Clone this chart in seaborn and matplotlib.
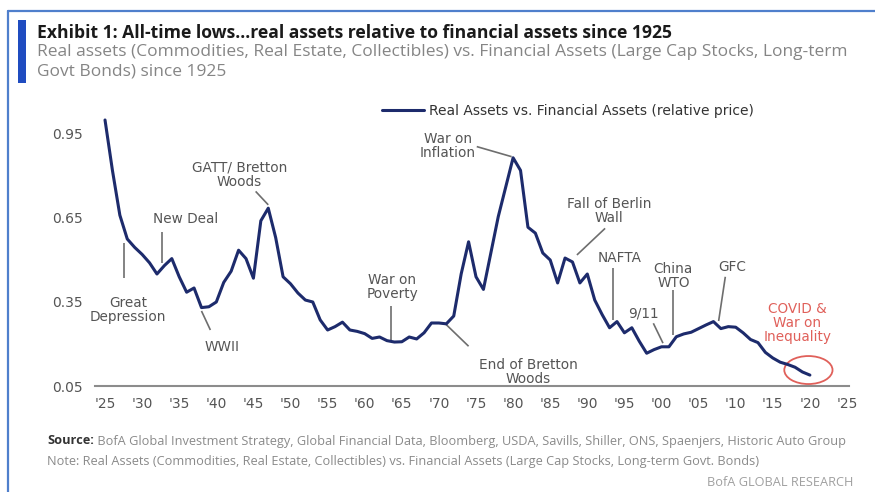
import matplotlib
matplotlib.use("Agg")
import matplotlib.pyplot as plt
from matplotlib.patches import Ellipse, Rectangle
from matplotlib.lines import Line2D
import pandas as pd
import seaborn as sns

# ---- data -------------------------------------------------------------
years = list(range(1925, 2021))
relative_price = [
    1.000, 0.820, 0.660, 0.575, 0.545, 0.520, 0.490, 0.450, 0.480, 0.505,  # 1925-34
    0.440, 0.385, 0.400, 0.330, 0.333, 0.350, 0.420, 0.460, 0.535, 0.505,  # 1935-44
    0.435, 0.640, 0.685, 0.580, 0.440, 0.415, 0.382, 0.357, 0.350, 0.286,  # 1945-54
    0.250, 0.262, 0.278, 0.250, 0.245, 0.237, 0.220, 0.225, 0.212, 0.207,  # 1955-64
    0.208, 0.225, 0.218, 0.240, 0.275, 0.275, 0.272, 0.300, 0.450, 0.565,  # 1965-74
    0.440, 0.395, 0.525, 0.655, 0.760, 0.865, 0.820, 0.617, 0.596, 0.525,  # 1975-84
    0.500, 0.418, 0.507, 0.493, 0.418, 0.450, 0.357, 0.305, 0.258, 0.280,  # 1985-94
    0.240, 0.258, 0.210, 0.167, 0.180, 0.190, 0.190, 0.226, 0.236, 0.242,  # 1995-04
    0.255, 0.268, 0.280, 0.255, 0.262, 0.260, 0.240, 0.216, 0.205, 0.170,  # 2005-14
    0.150, 0.135, 0.127, 0.117, 0.100, 0.089,                              # 2015-20
]
series_label = "Real Assets vs. Financial Assets (relative price)"

y_ticks = [0.05, 0.35, 0.65, 0.95]
y_tick_labels = ["0.05", "0.35", "0.65", "0.95"]
x_ticks = [1925, 1930, 1935, 1940, 1945, 1950, 1955, 1960, 1965, 1970, 1975,
           1980, 1985, 1990, 1995, 2000, 2005, 2010, 2015, 2020, 2025]
x_tick_labels = ["'25", "'30", "'35", "'40", "'45", "'50", "'55", "'60", "'65",
                 "'70", "'75", "'80", "'85", "'90", "'95", "'00", "'05", "'10",
                 "'15", "'20", "'25"]

# event label, text anchor (year, value), leader line ((x0, y0), (x1, y1))
events = [
    ("Great\nDepression", (1928.1, 0.323), ((1927.6, 0.560), (1927.6, 0.436))),
    ("New Deal", (1935.8, 0.646), ((1932.7, 0.600), (1932.7, 0.489))),
    ("GATT/ Bretton\nWoods", (1943.1, 0.805), ((1945.3, 0.745), (1947.0, 0.697))),
    ("WWII", (1940.8, 0.189), ((1938.0, 0.318), (1939.2, 0.250))),
    ("War on\nPoverty", (1963.7, 0.405), ((1963.6, 0.337), (1963.6, 0.209))),
    ("War on\nInflation", (1971.2, 0.907), ((1975.1, 0.905), (1979.8, 0.869))),
    ("End of Bretton\nWoods", (1982.0, 0.100), ((1970.8, 0.274), (1974.0, 0.192))),
    ("Fall of Berlin\nWall", (1992.9, 0.675), ((1992.4, 0.613), (1988.6, 0.518))),
    ("NAFTA", (1994.3, 0.506), ((1993.5, 0.470), (1993.5, 0.286))),
    ("9/11", (1997.6, 0.310), ((1998.9, 0.274), (2000.2, 0.203))),
    ("China\nWTO", (2001.6, 0.442), ((2001.6, 0.393), (2001.6, 0.232))),
    ("GFC", (2009.5, 0.474), ((2008.6, 0.440), (2007.7, 0.282))),
]
covid_label = "COVID &\nWar on\nInequality"
covid_text_pos = (2018.3, 0.275)
covid_circle = (2019.8, 0.107)

# ---- styling ----------------------------------------------------------
W, H = 875, 492
sns.set_theme(style="white")
plt.rcParams["font.family"] = ["DejaVu Sans"]
head_font = ["Open Sans", "DejaVu Sans"]

navy = "#1d2b6c"
gray_text = "#555555"
leader_gray = "#6e6e6e"
red = "#e0605a"
frame_blue = "#4f7fcc"
bar_blue = "#1f4cc0"

fig = plt.figure(figsize=(W / 100, H / 100), dpi=100)
fig.patch.set_facecolor("white")

# axes placed in pixel terms: x 95..849, y 100..386
ax = fig.add_axes([95 / W, 1 - 386 / H, (849 - 95) / W, (386 - 100) / H])
ax.set_facecolor("white")

df = pd.DataFrame({"year": years, "value": relative_price})
sns.lineplot(data=df, x="year", y="value", ax=ax, color=navy, linewidth=2.2,
             label=series_label)

ax.set_xlim(1923.65, 2025.27)
ax.set_ylim(0.05, 1.0714)
ax.set_xticks(x_ticks)
ax.set_xticklabels(x_tick_labels)
ax.set_yticks(y_ticks)
ax.set_yticklabels(y_tick_labels)
ax.set_xlabel("")
ax.set_ylabel("")
ax.tick_params(axis="both", length=0, labelsize=10, labelcolor=gray_text)
ax.tick_params(axis="x", pad=8)
ax.tick_params(axis="y", pad=9)
for side in ("left", "top", "right"):
    ax.spines[side].set_visible(False)
ax.spines["bottom"].set_color("#8c8c8c")
ax.spines["bottom"].set_linewidth(1.5)
ax.grid(False)

ax.legend(loc="center left", bbox_to_anchor=(382 / W, 1 - 111 / H),
          bbox_transform=fig.transFigure, frameon=False, fontsize=10,
          handlelength=3.0, handletextpad=0.35, borderpad=0, borderaxespad=0,
          labelcolor="#333333")

# event annotations
for label, (tx, ty), ((x0, y0), (x1, y1)) in events:
    ax.plot([x0, x1], [y0, y1], color=leader_gray, linewidth=1.2,
            solid_capstyle="butt", zorder=1)
    ax.text(tx, ty, label, ha="center", va="center", fontsize=9.8,
            color=gray_text, linespacing=1.0)

ax.text(covid_text_pos[0], covid_text_pos[1], covid_label, ha="center",
        va="center", fontsize=9.8, color=red, linespacing=1.0)
ax.add_patch(Ellipse(covid_circle, width=6.5, height=0.1, fill=False,
                     edgecolor=red, linewidth=1.3, clip_on=False))

# ---- header / footer --------------------------------------------------
fig.add_artist(Line2D([8 / W, 1], [1 - 11 / H, 1 - 11 / H], color=frame_blue,
                      linewidth=1.6, transform=fig.transFigure))
fig.add_artist(Line2D([8 / W, 8 / W], [0, 1 - 11 / H], color=frame_blue,
                      linewidth=1.6, transform=fig.transFigure))
fig.add_artist(Rectangle((18 / W, 1 - 83 / H), 8 / W, 63 / H,
                         transform=fig.transFigure, color=bar_blue, lw=0))

fig.text(37 / W, 1 - 33 / H,
         "Exhibit 1: All-time lows...real assets relative to financial assets since 1925",
         ha="left", va="center", fontsize=12.6, fontweight="bold",
         color="#1a1a1a", family=head_font)
fig.text(37 / W, 1 - 52 / H,
         "Real assets (Commodities, Real Estate, Collectibles) vs. Financial Assets (Large Cap Stocks, Long-term",
         ha="left", va="center", fontsize=12.5, color="#858585", family=head_font)
fig.text(37 / W, 1 - 71 / H, "Govt Bonds) since 1925",
         ha="left", va="center", fontsize=12.5, color="#858585", family=head_font)

src = fig.text(47 / W, 1 - 441 / H, "Source:", ha="left", va="center",
               fontsize=9.2, fontweight="bold", color="#333333", family=head_font)
ax.annotate(" BofA Global Investment Strategy, Global Financial Data, Bloomberg, USDA, Savills, Shiller, ONS, Spaenjers, Historic Auto Group",
            xy=(1, 0.5), xycoords=src, ha="left", va="center", fontsize=9.2,
            color="#8a8a8a", family=head_font, annotation_clip=False)
fig.text(47 / W, 1 - 462 / H,
         "Note: Real Assets (Commodities, Real Estate, Collectibles) vs. Financial Assets (Large Cap Stocks, Long-term Govt. Bonds)",
         ha="left", va="center", fontsize=9.2, color="#8a8a8a", family=head_font)
fig.text(853 / W, 1 - 483 / H, "BofA GLOBAL RESEARCH", ha="right", va="center",
         fontsize=9.2, color="#a0a0a0", family=head_font)

fig.savefig("out.png", dpi=100, facecolor="white")
